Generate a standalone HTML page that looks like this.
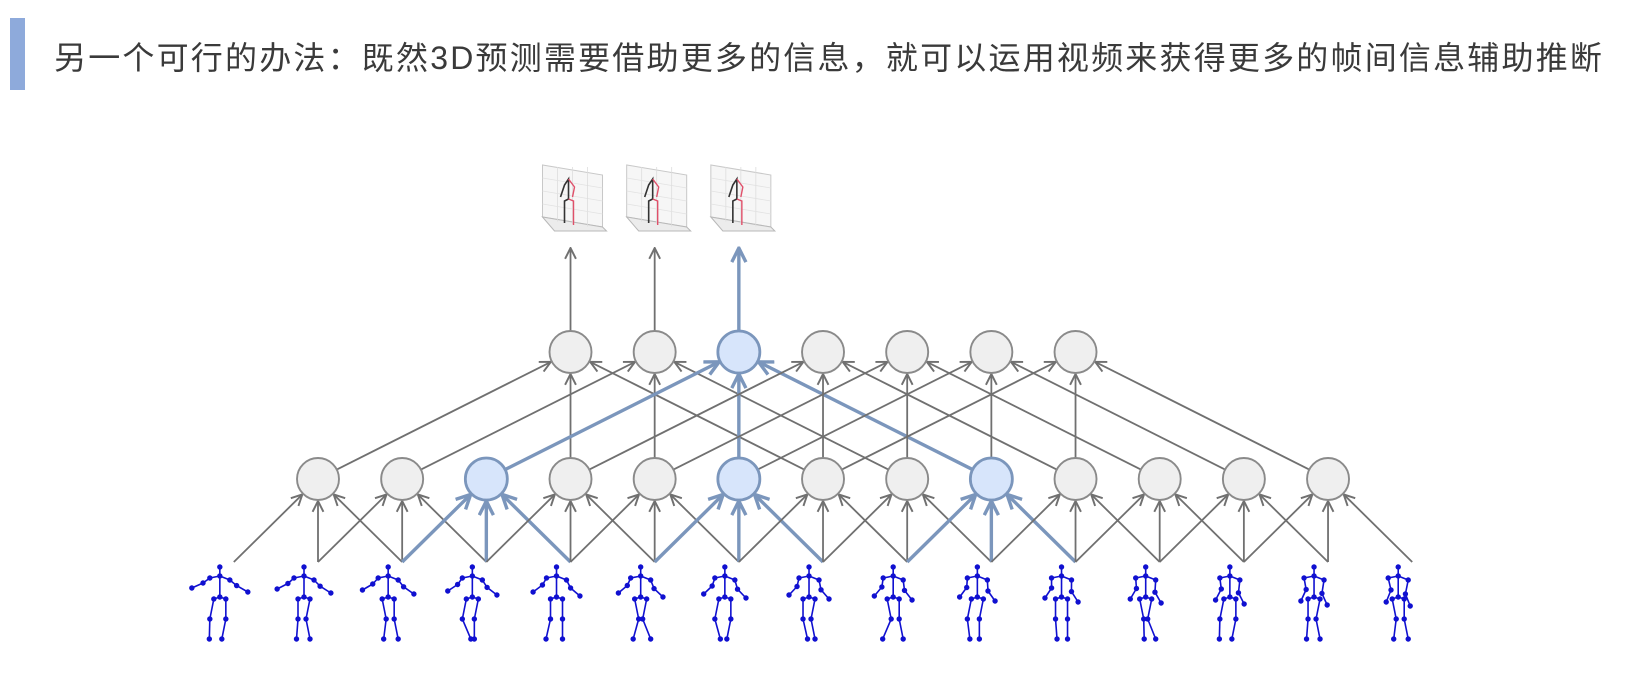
<!DOCTYPE html>
<html><head><meta charset="utf-8"><style>
html,body{margin:0;padding:0;background:#fff;width:1648px;height:683px;overflow:hidden}
.bar{position:absolute;left:10px;top:18px;width:15px;height:72px;background:#8eaadb}
.title{position:absolute;left:54px;top:36px;font-family:"Liberation Sans","Noto Sans CJK SC",sans-serif;font-size:32px;letter-spacing:2.2px;color:#3a3a3a;white-space:nowrap;line-height:44px}
svg{position:absolute;left:0;top:0}
</style></head><body>
<div class="bar"></div>
<div class="title">另一个可行的办法：既然3D预测需要借助更多的信息，就可以运用视频来获得更多的帧间信息辅助推断</div>
<svg id="s" width="1648" height="683" viewBox="0 0 1648 683">
<defs>
<marker id="ag" viewBox="0 0 12 12" refX="11" refY="6" markerWidth="13" markerHeight="13" markerUnits="userSpaceOnUse" orient="auto"><path d="M1,1 L11,6 L1,11" fill="none" stroke="#707070" stroke-width="1.8"/></marker>
<marker id="ab" viewBox="0 0 12 12" refX="11" refY="6" markerWidth="17" markerHeight="17" markerUnits="userSpaceOnUse" orient="auto"><path d="M1,1 L11,6 L1,11" fill="none" stroke="#7b96bc" stroke-width="2.4"/></marker>
</defs>
<g id="edges"></g><g id="nodes"></g><g id="sk"></g><g id="out"></g>
</svg>
<script>
var NS="http://www.w3.org/2000/svg";
function el(p,t,a){var e=document.createElementNS(NS,t);for(var k in a)e.setAttribute(k,a[k]);p.appendChild(e);return e;}
var E=document.getElementById('edges'),N=document.getElementById('nodes'),S=document.getElementById('sk'),O=document.getElementById('out');
var sp=84.17,hx0=318,hy=479,ty=352,r=21,sy=562;
function arrow(x1,y1,x2,y2,blue,startR){
 var dx=x2-x1,dy=y2-y1,L=Math.sqrt(dx*dx+dy*dy),ux=dx/L,uy=dy/L;
 var sx=x1+ux*startR,syy=y1+uy*startR,ex=x2-ux*(r+1),ey=y2-uy*(r+1);
 el(E,'line',{x1:sx,y1:syy,x2:ex,y2:ey,stroke:blue?'#7b96bc':'#707070','stroke-width':blue?3.4:1.8,'marker-end':blue?'url(#ab)':'url(#ag)'});
}
var hb=[2,5,8];
for(var j=0;j<13;j++){var hx=hx0+j*sp;for(var d=-1;d<=1;d++){arrow(hx+d*sp,sy,hx,hy,hb.indexOf(j)>=0,0);}}
for(var j=0;j<7;j++){var tx=hx0+(j+3)*sp;for(var d=-3;d<=3;d+=3){var hj=j+3+d;arrow(hx0+hj*sp,hy,tx,ty,j==2,r);}}
for(var j=0;j<3;j++){var tx=hx0+(j+3)*sp;var b=j==2;el(E,'line',{x1:tx,y1:ty-r,x2:tx,y2:248,stroke:b?'#7b96bc':'#707070','stroke-width':b?3.4:1.8,'marker-end':b?'url(#ab)':'url(#ag)'});}
for(var j=0;j<13;j++){var b=hb.indexOf(j)>=0;el(N,'circle',{cx:hx0+j*sp,cy:hy,r:r,fill:b?'#d7e5fb':'#efefef',stroke:b?'#7b96bc':'#8a8a8a','stroke-width':b?2.8:1.9});}
for(var j=0;j<7;j++){var b=j==2;el(N,'circle',{cx:hx0+(j+3)*sp,cy:ty,r:r,fill:b?'#d7e5fb':'#efefef',stroke:b?'#7b96bc':'#8a8a8a','stroke-width':b?2.8:1.9});}
function sk(cx,k){
 var c='#1010d0',t=k/14;
 var armSpread=28*(1-t)+12*t, armDrop=6+14*t;
 var pts={head:[cx,567],neck:[cx,576],ls:[cx-10,578],rs:[cx+10,580],le:[cx-armSpread*0.6,580+armDrop*0.5],re:[cx+armSpread*0.6,582+armDrop*0.6],lh:[cx-armSpread,582+armDrop],rh:[cx+armSpread,586+armDrop],pel:[cx,597],lp:[cx-6,599],rp:[cx+6,599],lk:[cx-6+(k%3-1)*4,619],rk:[cx+6-(k%2)*4,619],la:[cx-6+(k%4-1.5)*3,639],ra:[cx+6+(k%3-1)*4,639]};
 var segs=[['head','neck'],['neck','ls'],['neck','rs'],['ls','le'],['le','lh'],['rs','re'],['re','rh'],['neck','pel'],['pel','lp'],['pel','rp'],['lp','lk'],['lk','la'],['rp','rk'],['rk','ra']];
 segs.forEach(function(s){var a=pts[s[0]],b=pts[s[1]];el(S,'line',{x1:a[0],y1:a[1],x2:b[0],y2:b[1],stroke:c,'stroke-width':1.6});});
 for(var p in pts)el(S,'circle',{cx:pts[p][0],cy:pts[p][1],r:2.7,fill:c});
}
for(var k=0;k<15;k++)sk(hx0-sp+k*sp-14,k);
for(var j=0;j<3;j++){
 var cx=hx0+(j+3)*sp,x=cx-32,y=165;
 el(O,'path',{d:'M'+(x+4)+','+(y)+' L'+(x+4)+','+(y+52)+' L'+(x+64)+','+(y+62)+' L'+(x+64)+','+(y+10)+' Z',fill:'#f6f6f6',stroke:'#c8c8c8','stroke-width':1});
 el(O,'path',{d:'M'+(x+4)+','+(y+52)+' L'+(x+16)+','+(y+66)+' L'+(x+68)+','+(y+66)+' L'+(x+64)+','+(y+62)+' Z',fill:'#ececec',stroke:'#b8b8b8','stroke-width':1});
 for(var g=1;g<4;g++){el(O,'line',{x1:x+4+g*15,y1:y+2,x2:x+4+g*15,y2:y+54+g*2.5,stroke:'#ddd','stroke-width':0.8});el(O,'line',{x1:x+4,y1:y+g*13,x2:x+64,y2:y+g*13+10,stroke:'#e2e2e2','stroke-width':0.8});}
 var fx=cx-2;
 el(O,'path',{d:'M'+(fx-8)+','+(y+32)+' L'+(fx-4)+','+(y+20)+' L'+fx+','+(y+14)+' L'+fx+','+(y+34)+' L'+(fx-4)+','+(y+36)+' L'+(fx-4)+','+(y+58),fill:'none',stroke:'#333','stroke-width':1.6});
 el(O,'path',{d:'M'+fx+','+(y+14)+' L'+(fx+6)+','+(y+22)+' L'+(fx+4)+','+(y+32)+' M'+fx+','+(y+34)+' L'+(fx+5)+','+(y+36)+' L'+(fx+5)+','+(y+60),fill:'none',stroke:'#e0506a','stroke-width':1.4});
}
</script>
</body></html>
